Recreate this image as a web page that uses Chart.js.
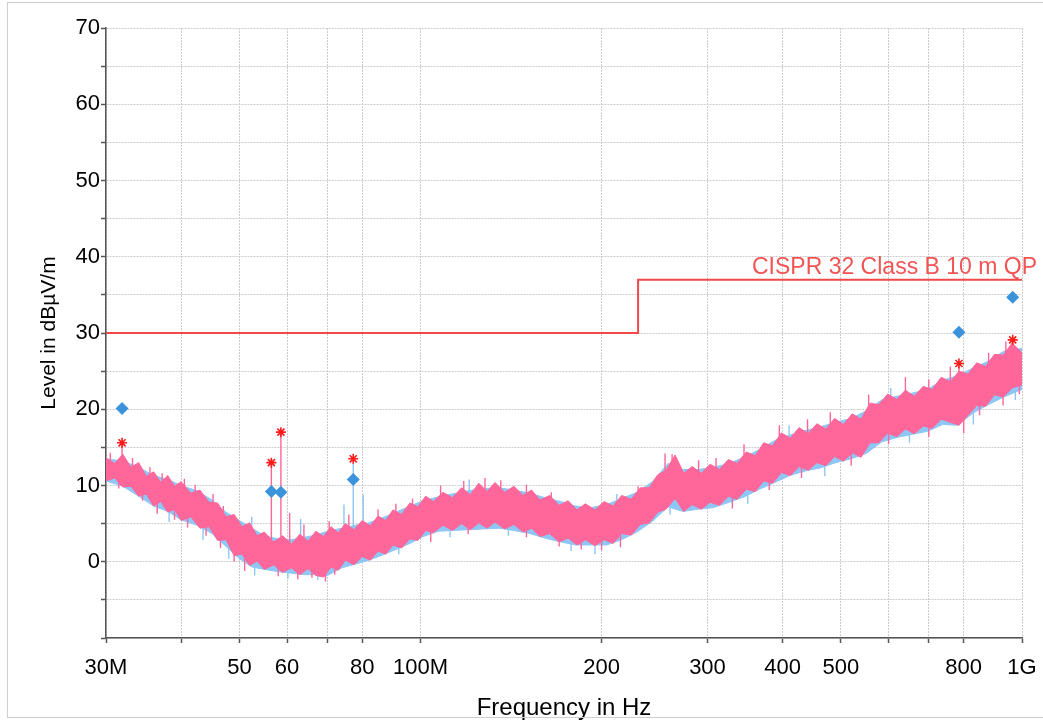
<!DOCTYPE html>
<html>
<head>
<meta charset="utf-8">
<script src="https://cdn.jsdelivr.net/npm/chart.js@4.4.1/dist/chart.umd.min.js"></script>
<style>
  body { margin: 0; background: #fff; }
  #wrap { position: relative; width: 1043px; height: 723px; overflow: hidden; }
  #frame {
    position: absolute; left: 7px; top: 2px; width: 1100px; height: 716px;
    box-sizing: border-box; border: 1px solid #cfcfcf; pointer-events: none;
  }
</style>
</head>
<body>
<div id="wrap">
  <canvas id="emc" width="1043" height="723"></canvas>
  <div id="frame"></div>
</div>
<script>
// measurement band, frequencies in MHz, levels in dBµV/m
const bandFreq = [
  30, 31, 32, 33, 34, 35, 36, 37, 38, 39, 40,
  41.5, 43, 44.5, 46, 47.5, 49, 50.5, 52, 53.5, 55,
  57, 59, 61, 63, 65, 67, 69, 71, 73, 75,
  77.5, 80, 82.5, 85, 87.5, 90,
  93, 96, 99, 102, 105,
  109, 113, 117, 121, 125, 129, 133,
  138, 143, 148, 153, 158,
  164, 170, 176, 182, 188,
  195, 202, 209, 216, 224, 232, 240, 248, 256, 265, 274, 283, 293,
  303, 314, 325, 336, 348, 360, 372, 385, 398,
  412, 426, 441, 456, 472, 488, 505, 522, 540, 559, 578, 598,
  619, 640, 662, 685, 709, 734, 760, 786, 813, 841, 870, 900, 931, 963, 1000
];
const pinkHi = [
  13.6, 12.9, 14.1, 12.4, 13.0, 11.2, 11.8, 10.4, 11.3, 9.9, 10.5,
  9.0, 9.4, 7.8, 7.7, 5.9, 6.2, 4.6, 5.1, 3.4, 3.9,
  2.6, 3.4, 2.3, 3.6, 2.7, 4.0, 3.3, 4.6, 3.8, 5.0,
  4.2, 5.4, 4.7, 6.0, 5.4, 6.8,
  6.2, 7.7, 7.2, 8.6, 7.9,
  9.1, 8.4, 9.7, 8.8, 10.3, 9.2, 10.4,
  9.1, 9.9, 8.7, 9.4, 8.1,
  8.7, 7.4, 8.0, 6.8, 7.6,
  6.8, 7.9, 7.3, 8.7, 8.2, 9.7, 9.7, 11.4, 12.0, 14.0, 11.6, 12.5, 11.6,
  12.8, 12.1, 13.4, 12.9, 14.4, 13.9, 15.6, 15.2, 16.9,
  16.2, 17.6, 16.8, 18.1, 17.4, 18.8, 18.0, 19.4, 18.7, 20.8, 20.6, 22.0,
  21.3, 22.5, 21.7, 23.0, 22.6, 24.2, 23.6, 25.0, 24.6, 26.1, 25.6, 27.2, 27.1, 28.7, 27.4
];
const pinkLo = [
  10.6, 11.0, 9.8, 9.9, 8.6, 8.9, 7.3, 7.9, 6.5, 6.9, 5.4,
  5.9, 4.4, 4.6, 2.8, 2.9, 0.8, 1.0, -0.5, 0.1, -1.0,
  -0.4, -1.4, -0.8, -1.7, -0.9, -1.8, -2.0, -0.7, -1.1, 0.2,
  -0.4, 0.7, 0.2, 1.4, 1.0, 2.2,
  1.8, 3.0, 2.8, 4.1, 3.8,
  4.8, 4.1, 5.0, 4.2, 5.1, 4.4, 5.2,
  4.3, 4.9, 3.9, 4.4, 3.3,
  3.7, 2.6, 3.1, 2.2, 2.9,
  2.1, 2.9, 2.4, 3.7, 3.5, 4.9, 5.1, 6.5, 6.9, 8.3, 6.6, 7.5, 6.9,
  7.8, 7.4, 8.6, 8.2, 9.5, 9.2, 10.6, 10.3, 11.7,
  11.3, 12.5, 12.0, 13.0, 12.6, 13.8, 13.2, 14.3, 13.7, 15.6, 15.6, 16.9,
  16.4, 17.4, 16.8, 17.8, 17.5, 18.7, 18.3, 17.9, 19.2, 20.5, 20.4, 21.9, 21.6, 22.8, 23.2
];

const blueFreq = [
  30, 32, 34, 36, 38, 40, 42.5, 45, 47.5, 50, 52.5, 55, 58, 61, 64, 67, 70,
  74, 78, 82, 86, 91, 96, 101, 107, 113, 120, 127, 135, 143, 152, 161, 171,
  181, 192, 204, 216, 229, 243, 258, 273, 290, 307, 326, 345, 366, 388, 411,
  436, 462, 490, 520, 551, 584, 619, 656, 696, 738, 782, 829, 879, 932, 1000
];
const blueHi = [
  13.5, 13.2, 12.4, 11.3, 10.8, 10.0, 9.3, 8.1, 6.5, 5.4, 4.4, 3.4, 3.0, 2.9, 3.2, 3.5, 4.0,
  4.4, 4.8, 5.1, 5.7, 6.5, 7.3, 8.0, 8.5, 8.9, 9.3, 9.6, 9.7, 9.4, 9.0, 8.4, 7.9,
  7.3, 7.1, 7.5, 8.3, 9.1, 10.5, 12.9, 12.1, 12.1, 12.4, 12.9, 13.7, 14.7, 15.9, 16.6,
  17.2, 17.7, 18.3, 18.8, 19.8, 21.2, 21.7, 22.1, 22.6, 23.8, 24.4, 25.4, 26.3, 27.6, 28.0
];
const blueLo = [
  10.6, 9.9, 8.6, 7.3, 6.6, 5.5, 4.8, 3.7, 2.0, 0.4, -0.7, -1.0, -1.3, -1.5, -1.7, -1.7, -1.8,
  -0.8, -0.3, 0.2, 0.8, 1.6, 2.4, 3.3, 4.0, 4.1, 4.2, 4.3, 4.4, 4.1, 3.7, 3.1, 2.6,
  2.2, 2.2, 2.2, 2.9, 3.9, 5.3, 7.2, 6.6, 6.9, 7.1, 7.8, 8.5, 9.5, 10.4, 11.3,
  11.9, 12.3, 13.0, 13.5, 14.2, 15.7, 16.3, 16.7, 17.1, 18.0, 17.9, 19.5, 20.6, 21.6, 22.6
];

// narrow spikes sticking out of the band (start level, tip level)
const pinkSpikeFreq = [
  31.9, 56.5, 58.6, 60.6, 785.6, 965,
  30.5, 33.2, 35.5, 37.2, 40.5, 42.2, 45.2, 47, 64, 70.5, 76, 85, 91, 97,
  108, 118, 128, 136, 150, 165, 230, 255, 262, 290, 310, 345, 395, 440, 480,
  556, 640, 700, 760, 880, 940,
  31.5, 34.5, 36.5, 39, 41, 44, 46.5, 49, 51, 58, 62.5, 66, 69.5, 72,
  104, 120, 150, 170, 185, 200, 215, 330, 380, 430, 520, 600, 700, 800, 850, 930, 990
];
const pinkSpikeFrom = [
  12.5, 0.5, 1.0, 2.0, 23.0, 27.5,
  12.5, 11.8, 10.5, 10.0, 9.0, 8.4, 7.0, 5.8, 2.5, 3.2, 3.8, 4.8, 5.6, 6.4,
  7.8, 8.4, 8.8, 8.8, 8.2, 7.4, 8.2, 11.5, 12.0, 11.2, 11.6, 12.8, 15.4, 16.2, 17.0,
  19.0, 21.0, 21.8, 23.0, 25.2, 26.8,
  10.8, 9.5, 7.8, 7.0, 6.2, 4.8, 3.6, 1.8, 0.8, 0.0, -0.3, -0.4, -0.5, 0.0,
  4.6, 5.4, 5.0, 3.8, 3.4, 3.3, 3.8, 9.0, 11.2, 13.0, 14.6, 17.4, 18.4, 18.8, 21.0, 22.6, 23.8
];
const pinkSpikeTip = [
  15.4, 12.8, 16.8, 6.4, 25.6, 28.8,
  14.3, 13.6, 12.4, 11.6, 10.9, 10.1, 8.9, 7.3, 4.9, 5.3, 6.2, 6.9, 7.6, 8.3,
  10.0, 10.6, 11.0, 10.7, 10.1, 9.1, 9.9, 14.2, 14.1, 13.3, 13.6, 15.4, 17.9, 18.7, 19.6,
  21.9, 24.2, 23.9, 25.6, 27.4, 28.9,
  9.6, 8.0, 6.3, 5.5, 4.5, 3.4, 1.8, 0.0, -1.2, -1.9, -2.3, -2.1, -2.6, -1.7,
  2.6, 3.6, 3.2, 2.0, 1.6, 1.5, 1.9, 7.0, 9.4, 11.0, 12.6, 15.4, 16.4, 16.9, 19.2, 20.5, 22.0
];
const blueSpikeFreq = [
  63.2, 74.6, 77.3, 80.3,
  38.2, 43.5, 48, 53, 60.2, 67.5, 92, 112, 140, 178, 195, 260, 350, 470, 650, 830, 975,
  52.4, 120.5, 212, 410, 605
];
const blueSpikeFrom = [
  2.5, 3.0, 3.5, 3.5,
  6.8, 4.6, 2.0, -0.2, -0.5, -0.6, 2.6, 4.8, 5.2, 3.2, 2.8, 8.0, 9.4, 13.0, 17.6, 19.8, 23.0,
  3.8, 8.8, 7.2, 16.0, 21.0
];
const blueSpikeTip = [
  5.6, 7.5, 13.3, 8.8,
  5.2, 2.9, 0.4, -1.8, -2.2, -2.4, 1.0, 3.2, 3.4, 1.4, 1.0, 6.2, 7.6, 11.2, 15.6, 18.0, 21.2,
  5.9, 10.8, 8.9, 17.9, 22.8
];

// final results
const resultFreq = [31.9, 56.5, 58.6, 77.3, 785.6, 965];
const qpLevel = [20.1, 9.2, 9.1, 10.8, 30.1, 34.7];
const peakLevel = [15.6, 13.0, 17.0, 13.5, 26.0, 29.1];

// limit line
const limitName = 'CISPR 32 Class B 10 m QP';
const limitFreq = [30, 230, 230, 1000];
const limitLevel = [30, 30, 37, 37];

const xTickValues = [30, 40, 50, 60, 70, 80, 100, 200, 300, 400, 500, 600, 700, 800, 1000];
const xTickLabels = ['30M', '', '50', '60', '', '80', '100M', '200', '300', '400', '500', '', '', '800', '1G'];

const PINK = '#ff6699';
const BLUE = '#8ec6f6';

function pts(xs, ys) {
  return xs.map((x, i) => ({ x: x, y: ys[i] }));
}
function stems(xs, lo, hi) {
  return xs.flatMap((x, i) => [{ x: x, y: lo[i] }, { x: x, y: hi[i] }, { x: x, y: null }]);
}

const limitLabel = {
  id: 'limitLabel',
  afterDatasetsDraw(chart) {
    const { ctx, chartArea, scales } = chart;
    ctx.save();
    ctx.font = "23px 'Liberation Sans', Arial, sans-serif";
    ctx.fillStyle = '#f25454';
    ctx.textAlign = 'right';
    ctx.textBaseline = 'alphabetic';
    ctx.fillText(limitName, chartArea.right + 15, scales.y.getPixelForValue(limitLevel[3]) - 6);
    ctx.restore();
  }
};

Chart.defaults.font.family = "'Liberation Sans', Arial, sans-serif";
Chart.defaults.color = '#000';

const gridOpts = {
  color: '#cdcdcd',
  lineWidth: 1,
  tickLength: 5,
  tickColor: '#555',
  tickWidth: 1.5,
  tickBorderDash: []
};
const borderOpts = { color: '#555', width: 1.5, dash: [2, 1] };

const ctx = document.getElementById('emc').getContext('2d');
new Chart(ctx, {
  type: 'line',
  data: {
    datasets: [
      {
        label: 'Peak',
        data: pts(resultFreq, peakLevel),
        showLine: false,
        pointStyle: 'star',
        pointRadius: 5,
        borderColor: '#ff1a1a',
        borderWidth: 1.6,
        order: 0
      },
      {
        label: 'QP',
        data: pts(resultFreq, qpLevel),
        showLine: false,
        pointStyle: 'rectRot',
        pointRadius: 6.5,
        backgroundColor: '#3b93dc',
        borderColor: '#3b93dc',
        borderWidth: 0,
        order: 1
      },
      {
        label: limitName,
        data: pts(limitFreq, limitLevel),
        borderColor: '#f24848',
        borderWidth: 2,
        pointRadius: 0,
        order: 2
      },
      {
        label: 'pink spikes',
        data: stems(pinkSpikeFreq, pinkSpikeFrom, pinkSpikeTip),
        borderColor: PINK,
        borderWidth: 1.4,
        pointRadius: 0,
        spanGaps: false,
        order: 3
      },
      {
        label: 'pink high',
        data: pts(bandFreq, pinkHi),
        borderColor: PINK,
        backgroundColor: PINK,
        borderWidth: 1,
        pointRadius: 0,
        fill: '+1',
        order: 4
      },
      {
        label: 'pink low',
        data: pts(bandFreq, pinkLo),
        borderColor: PINK,
        borderWidth: 1,
        pointRadius: 0,
        order: 5
      },
      {
        label: 'blue spikes',
        data: stems(blueSpikeFreq, blueSpikeFrom, blueSpikeTip),
        borderColor: BLUE,
        borderWidth: 1.4,
        pointRadius: 0,
        spanGaps: false,
        order: 6
      },
      {
        label: 'blue high',
        data: pts(blueFreq, blueHi),
        borderColor: BLUE,
        backgroundColor: BLUE,
        borderWidth: 1,
        pointRadius: 0,
        fill: '+1',
        order: 7
      },
      {
        label: 'blue low',
        data: pts(blueFreq, blueLo),
        borderColor: BLUE,
        borderWidth: 1,
        pointRadius: 0,
        order: 8
      }
    ]
  },
  options: {
    responsive: false,
    devicePixelRatio: 1,
    animation: false,
    events: [],
    layout: { padding: { top: 28, right: 21, left: 0, bottom: 0 } },
    plugins: {
      legend: { display: false },
      tooltip: { enabled: false }
    },
    scales: {
      x: {
        type: 'logarithmic',
        min: 30,
        max: 1000,
        afterBuildTicks: (s) => { s.ticks = xTickValues.map((v) => ({ value: v })); },
        afterFit: (s) => { s.height = 85; },
        ticks: {
          autoSkip: false,
          maxRotation: 0,
          padding: 0,
          color: '#000',
          font: { size: 22, lineHeight: 2.27 },
          callback: (v) => {
            const i = xTickValues.indexOf(v);
            return i >= 0 ? xTickLabels[i] : '';
          }
        },
        grid: gridOpts,
        border: borderOpts,
        title: {
          display: true,
          text: 'Frequency in Hz',
          color: '#000',
          font: { size: 24 },
          padding: { top: 0, bottom: 0 }
        }
      },
      y: {
        min: -10,
        max: 70,
        afterFit: (s) => { s.width = 106; },
        ticks: {
          stepSize: 5,
          autoSkip: false,
          padding: 1,
          color: '#000',
          font: { size: 22 },
          callback: (v) => (v >= 0 && v % 10 === 0 ? String(v) : '')
        },
        grid: gridOpts,
        border: borderOpts,
        title: {
          display: true,
          text: 'Level in dBµV/m',
          color: '#000',
          font: { size: 21 },
          padding: { top: 37, bottom: 0 }
        }
      }
    }
  },
  plugins: [limitLabel]
});
</script>
</body>
</html>
